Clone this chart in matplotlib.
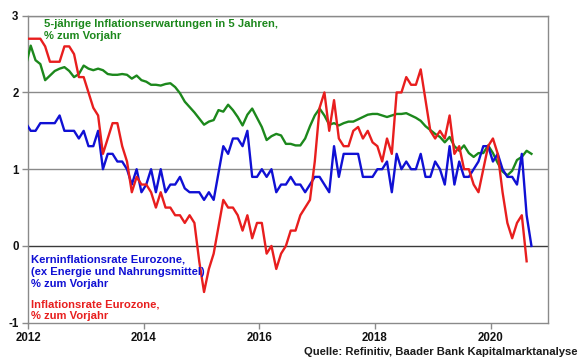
import matplotlib
matplotlib.use("Agg")
import matplotlib.pyplot as plt
import numpy as np
import pandas as pd

# ---- data (monthly, first point Dec 2011) ----
months = pd.period_range("2011-12", "2020-09", freq="M")

green_5y5y = [2.35,
    2.61, 2.42, 2.37, 2.16, 2.22, 2.28, 2.31, 2.33, 2.28, 2.20, 2.24, 2.35,
    2.31, 2.29, 2.31, 2.29, 2.24, 2.23, 2.23, 2.24, 2.23, 2.18, 2.22, 2.16,
    2.14, 2.10, 2.10, 2.09, 2.11, 2.12, 2.07, 1.99, 1.88, 1.81, 1.74, 1.66,
    1.58, 1.62, 1.64, 1.77, 1.75, 1.84, 1.77, 1.68, 1.57, 1.71, 1.79, 1.67,
    1.55, 1.38, 1.43, 1.46, 1.44, 1.33, 1.33, 1.31, 1.31, 1.40, 1.56, 1.70,
    1.79, 1.70, 1.58, 1.60, 1.57, 1.60, 1.62, 1.62, 1.65, 1.68, 1.71, 1.72,
    1.72, 1.70, 1.68, 1.70, 1.72, 1.72, 1.73, 1.70, 1.67, 1.63, 1.56, 1.51,
    1.46, 1.42, 1.35, 1.42, 1.30, 1.24, 1.31, 1.21, 1.16, 1.21, 1.21, 1.31,
    1.21, 1.08, 0.97, 0.92, 0.98, 1.12, 1.16, 1.24, 1.20]

blue_core = [1.6,
    1.5, 1.5, 1.6, 1.6, 1.6, 1.6, 1.7, 1.5, 1.5, 1.5, 1.4, 1.5,
    1.3, 1.3, 1.5, 1.0, 1.2, 1.2, 1.1, 1.1, 1.0, 0.8, 1.0, 0.7,
    0.8, 1.0, 0.7, 1.0, 0.7, 0.8, 0.8, 0.9, 0.75, 0.7, 0.7, 0.7,
    0.6, 0.7, 0.6, 0.95, 1.3, 1.2, 1.4, 1.4, 1.3, 1.5, 0.9, 0.9,
    1.0, 0.9, 1.0, 0.7, 0.8, 0.8, 0.9, 0.8, 0.8, 0.7, 0.8, 0.9,
    0.9, 0.8, 0.7, 1.3, 0.9, 1.2, 1.2, 1.2, 1.2, 0.9, 0.9, 0.9,
    1.0, 1.0, 1.1, 0.7, 1.2, 1.0, 1.1, 1.0, 1.0, 1.2, 0.9, 0.9,
    1.1, 1.0, 0.8, 1.3, 0.8, 1.1, 0.9, 0.9, 1.0, 1.1, 1.3, 1.3,
    1.1, 1.2, 1.0, 0.9, 0.9, 0.8, 1.2, 0.4, 0.0]

red_hicp = [2.7,
    2.7, 2.7, 2.7, 2.6, 2.4, 2.4, 2.4, 2.6, 2.6, 2.5, 2.2, 2.2,
    2.0, 1.8, 1.7, 1.2, 1.4, 1.6, 1.6, 1.3, 1.1, 0.7, 0.9, 0.8,
    0.8, 0.7, 0.5, 0.7, 0.5, 0.5, 0.4, 0.4, 0.3, 0.4, 0.3, -0.2,
    -0.6, -0.3, -0.1, 0.25, 0.6, 0.5, 0.5, 0.4, 0.2, 0.4, 0.1, 0.3,
    0.3, -0.1, 0.0, -0.3, -0.1, 0.0, 0.2, 0.2, 0.4, 0.5, 0.6, 1.1,
    1.8, 2.0, 1.5, 1.9, 1.4, 1.3, 1.3, 1.5, 1.55, 1.4, 1.5, 1.35,
    1.3, 1.1, 1.4, 1.2, 2.0, 2.0, 2.2, 2.1, 2.1, 2.3, 1.9, 1.5,
    1.4, 1.5, 1.4, 1.7, 1.2, 1.3, 1.0, 1.0, 0.8, 0.7, 1.0, 1.3,
    1.4, 1.2, 0.7, 0.3, 0.1, 0.3, 0.4, -0.2]

x_ticks = [2012, 2014, 2016, 2018, 2020]
y_ticks = [-1, 0, 1, 2, 3]

green_label = "5-jährige Inflationserwartungen in 5 Jahren,\n% zum Vorjahr"
blue_label = "Kerninflationsrate Eurozone,\n(ex Energie und Nahrungsmittel)\n% zum Vorjahr"
red_label = "Inflationsrate Eurozone,\n% zum Vorjahr"
source = "Quelle: Refinitiv, Baader Bank Kapitalmarktanalyse"

# ---- drawing ----
plt.rcParams["font.family"] = ["Liberation Sans", "DejaVu Sans"]
W, H = 580, 359
fig = plt.figure(figsize=(W / 100, H / 100), dpi=100)
ax = fig.add_axes([28.3 / W, 1 - 322.7 / H, (548.3 - 28.3) / W, (322.7 - 15.7) / H])

t = np.array([p.year + (p.month - 0.5) / 12 for p in months])

GREEN = "#1c881c"
BLUE = "#1010d4"
RED = "#e81e1e"

ax.plot(t[:len(green_5y5y)], green_5y5y, color=GREEN, lw=1.7, zorder=3)
ax.plot(t[:len(blue_core)], blue_core, color=BLUE, lw=1.7, zorder=4)
ax.plot(t[:len(red_hicp)], red_hicp, color=RED, lw=1.7, zorder=5)

ax.set_xlim(2012, 2021)
ax.set_ylim(-1, 3)
ax.set_xticks(x_ticks)
ax.set_xticklabels([str(v) for v in x_ticks])
ax.set_yticks(y_ticks)
ax.set_yticklabels([str(v) for v in y_ticks])

for v in [1, 2, 3]:
    ax.axhline(v, color="#8a8a8a", lw=1.0, zorder=1)
ax.axhline(0, color="#3a3a3a", lw=1.0, zorder=1)

for s in ax.spines.values():
    s.set_color("#8a8a8a")
    s.set_linewidth(1.0)

ax.tick_params(axis="both", length=4, width=1, color="#8a8a8a",
               labelsize=8.3, pad=3)
for lab in ax.get_xticklabels() + ax.get_yticklabels():
    lab.set_fontweight("bold")
    lab.set_color("#111111")

def ftext(x, y, s, color, **kw):
    fig.text(x / W, 1 - y / H, s, color=color, fontsize=8.15, fontweight="bold",
             va="baseline", **kw)

# green annotation
lines = green_label.split("\n")
ftext(44.3, 26.7, lines[0], GREEN)
ftext(44.3, 39.3, lines[1], GREEN)
# blue annotation
lines = blue_label.split("\n")
for i, ln in enumerate(lines):
    ftext(31.0, 262.3 + i * 12.5, ln, BLUE)
# red annotation
lines = red_label.split("\n")
for i, ln in enumerate(lines):
    ftext(31.0, 307.3 + i * 12.0, ln, RED)
# source
ftext(577, 355, source, "#1a1a1a", ha="right")

fig.savefig("out.png", dpi=100)
